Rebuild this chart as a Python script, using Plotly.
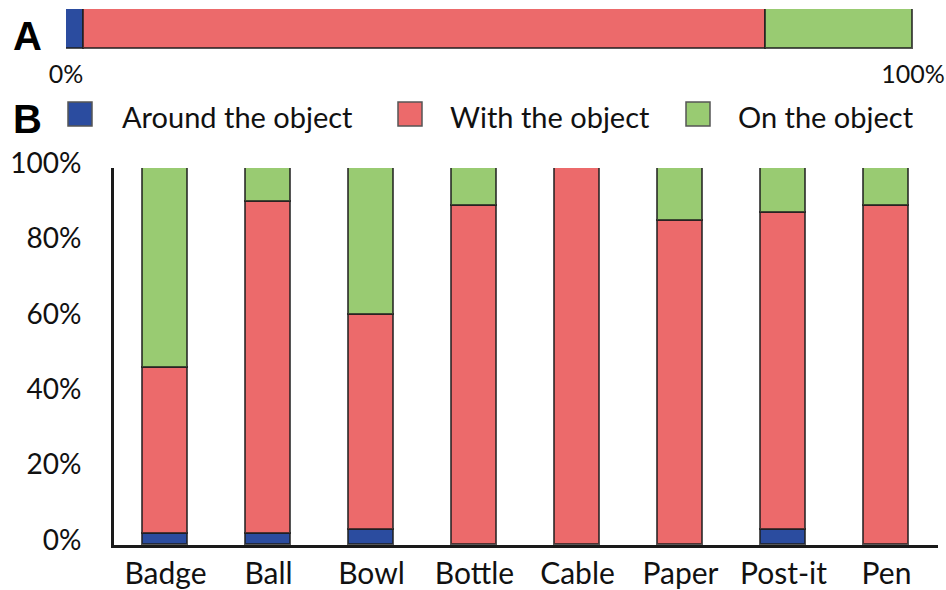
import plotly.graph_objects as go

# ---- data ----
categories = ["Badge", "Ball", "Bowl", "Bottle", "Cable", "Paper", "Post-it", "Pen"]
series_names = ["Around the object", "With the object", "On the object"]
around_vals = [3, 3, 4, 0, 0, 0, 4, 0]
with_vals = [44, 88, 57, 90, 100, 86, 84, 90]
on_vals = [53, 9, 39, 10, 0, 14, 12, 10]
overall_vals = [2.1, 80.6, 17.3]          # panel A
overall_ticks = [0, 100]
overall_ticktext = ["0%", "100%"]
y_ticks = [0, 20, 40, 60, 80, 100]
y_ticktext = ["0%", "20%", "40%", "60%", "80%", "100%"]

colors = ["#2b4c9f", "#ec6a6b", "#99cb72"]
W, H = 946, 590
FONT = "Lato"

def px(x):
    return x / W

def py(y):
    return 1 - y / H

fig = go.Figure()

# Panel B stacked bars (zero segments are not drawn)
for name, vals, col in zip(series_names, [around_vals, with_vals, on_vals], colors):
    fig.add_trace(go.Bar(
        x=categories, y=[v if v else None for v in vals], name=name, width=0.44,
        marker=dict(color=col, line=dict(color="rgba(30,30,30,0.75)", width=1.6)),
        xaxis="x", yaxis="y", showlegend=False,
    ))

# Panel A single horizontal stacked bar
for name, v, col in zip(series_names, overall_vals, colors):
    fig.add_trace(go.Bar(
        x=[v], y=[0], orientation="h", name=name, width=1,
        marker=dict(color=col, line=dict(color="rgba(30,30,30,0.75)", width=1.6)),
        xaxis="x2", yaxis="y2", showlegend=False,
    ))

fig.update_layout(
    template="none",
    width=W, height=H,
    margin=dict(l=0, r=0, t=0, b=0, autoexpand=False),
    paper_bgcolor="white", plot_bgcolor="white",
    barmode="stack", bargap=0,
    font=dict(family=FONT, color="#111"),
    xaxis=dict(
        domain=[px(114), px(938)], range=[-0.5, 7.5], type="category",
        showline=True, linecolor="#1a1a1a", linewidth=3, showgrid=False,
        ticks="", tickfont=dict(size=30, family=FONT), ticklabelstandoff=0,
        anchor="y", fixedrange=True, automargin=False,
    ),
    yaxis=dict(
        domain=[py(545), py(168)], range=[0, 100],
        tickvals=y_ticks, ticktext=y_ticktext,
        showline=True, linecolor="#1a1a1a", linewidth=3, showgrid=False,
        zeroline=False, ticks="", tickfont=dict(size=28, family=FONT),
        ticklabelstandoff=24, ticklabelshift=-5, anchor="x", automargin=False,
    ),
    xaxis2=dict(
        domain=[px(66), px(913)], range=[0, 100],
        tickvals=overall_ticks, ticktext=overall_ticktext,
        showline=False, showgrid=False, zeroline=False, ticks="",
        tickfont=dict(size=25, family=FONT), ticklabelstandoff=8,
        anchor="y2", automargin=False,
    ),
    yaxis2=dict(
        domain=[py(49), py(9)], range=[-0.5, 0.5],
        showticklabels=False, showgrid=False, zeroline=False, showline=False,
        anchor="x2", automargin=False,
    ),
)

# panel letters
fig.add_annotation(x=px(27), y=py(36), xref="paper", yref="paper", text="<b>A</b>",
                   xanchor="center", yanchor="middle",
                   showarrow=False, font=dict(size=40, family="Liberation Sans", color="#000"))
fig.add_annotation(x=px(27), y=py(119), xref="paper", yref="paper", text="<b>B</b>",
                   xanchor="center", yanchor="middle",
                   showarrow=False, font=dict(size=40, family="Liberation Sans", color="#000"))

# legend
sw_x = [68, 398, 686]
tx_x = [120, 448, 736]
for name, col, sx, tx in zip(series_names, colors, sw_x, tx_x):
    fig.add_shape(type="rect", xref="paper", yref="paper",
                  x0=px(sx), x1=px(sx + 24), y0=py(126), y1=py(102),
                  fillcolor=col, line=dict(color="#555", width=1.5))
    fig.add_annotation(x=px(tx), y=py(116), xref="paper", yref="paper", text=name,
                       showarrow=False, xanchor="left", yanchor="middle",
                       font=dict(size=29, family=FONT, color="#111"))

fig.write_html("out.html", config={"displayModeBar": False},
               post_script="document.body.style.margin='0';")
